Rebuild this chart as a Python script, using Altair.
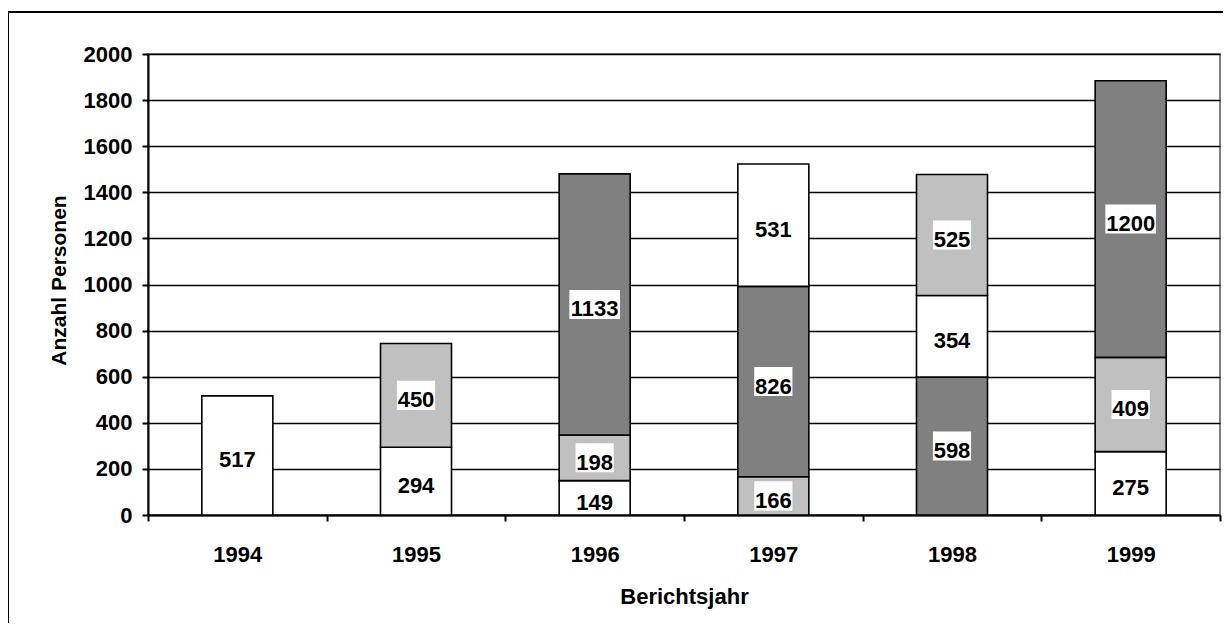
import altair as alt
import pandas as pd

years = ["1994", "1995", "1996", "1997", "1998", "1999"]
seg_year = ["1994", "1995", "1995", "1996", "1996", "1996", "1997", "1997", "1997",
            "1998", "1998", "1998", "1999", "1999", "1999"]
seg_value = [517, 294, 450, 149, 198, 1133, 166, 826, 531, 598, 354, 525, 275, 409, 1200]
seg_shade = ["weiß", "weiß", "hellgrau", "weiß", "hellgrau", "dunkelgrau",
             "hellgrau", "dunkelgrau", "weiß", "dunkelgrau", "weiß", "hellgrau",
             "weiß", "hellgrau", "dunkelgrau"]
shade_names = ["weiß", "hellgrau", "dunkelgrau"]
shade_colors = ["#FFFFFF", "#C0C0C0", "#808080"]
y_ticks = list(range(0, 2001, 200))

FONT = "Liberation Sans, Arial, sans-serif"

rows = []
base = {}
for i, (yr, v, s) in enumerate(zip(seg_year, seg_value, seg_shade)):
    y0 = base.get(yr, 0)
    y1 = y0 + v
    base[yr] = y1
    mid = (y0 + y1) / 2
    lab = str(v)
    rows.append(dict(year=yr, value=v, shade=s, y0=y0, y1=y1, mid=mid,
                     lo=mid - 63, hi=mid + 63, label=lab, bw=len(lab) * 12.4 + 1, pos=i))
df = pd.DataFrame(rows)

xscale = alt.Scale(domain=years, paddingInner=0, paddingOuter=0)
yscale = alt.Scale(domain=[0, 2000], nice=False)

xaxis = alt.Axis(title="Berichtsjahr", labelAngle=0, tickBand="extent",
                 labelPadding=23, titleY=88, titleBaseline="alphabetic",
                 grid=False, labelFontSize=22, titleFontSize=22)
yaxis = alt.Axis(values=y_ticks, format="d", title="Anzahl Personen", grid=True,
                 gridColor="black", gridWidth=1.5, labelPadding=10,
                 titleX=-83, titleY=226, titleBaseline="alphabetic",
                 titleAngle=270, titleFontSize=21, labelFontSize=22)


def X():
    return alt.X("year:N", sort=years, scale=xscale, axis=xaxis)


def Y(field):
    return alt.Y(field, scale=yscale, axis=yaxis)


frame = alt.Chart(pd.DataFrame({"f": [0]})).mark_rect(
    fill="transparent", stroke="black", strokeWidth=2
).encode(x=alt.value(-140), x2=alt.value(1300), y=alt.value(-42), y2=alt.value(700))

bars = alt.Chart(df).mark_bar(stroke="black", strokeWidth=1.6, size=71).encode(
    x=X(),
    y=Y("y0:Q"),
    y2="y1:Q",
    color=alt.Color("shade:N", scale=alt.Scale(domain=shade_names, range=shade_colors),
                    legend=None),
)

boxes = alt.Chart(df).mark_bar(color="white", stroke=None).encode(
    x=X(),
    y=Y("lo:Q"),
    y2="hi:Q",
    size=alt.Size("bw:Q", scale=None, legend=None),
)

texts = alt.Chart(df).mark_text(font=FONT, fontSize=22, fontWeight="bold",
                                color="black", baseline="middle", dy=5).encode(
    x=X(),
    y=Y("mid:Q"),
    text="label:N",
)

chart = alt.layer(bars, boxes, texts, frame).properties(
    width=1072, height=461,
    padding={"left": 140, "top": 46, "right": 3, "bottom": 108},
    autosize=alt.AutoSizeParams(type="none"),
).configure_view(
    stroke="#808080", strokeWidth=2
).configure_axis(
    labelFont=FONT, titleFont=FONT, labelFontWeight="bold", titleFontWeight="bold",
    labelColor="black", titleColor="black", domainColor="black", domainWidth=2,
    tickColor="black", tickWidth=2, tickSize=6,
)

chart.save("out.html", embed_options={"renderer": "svg", "actions": False})
